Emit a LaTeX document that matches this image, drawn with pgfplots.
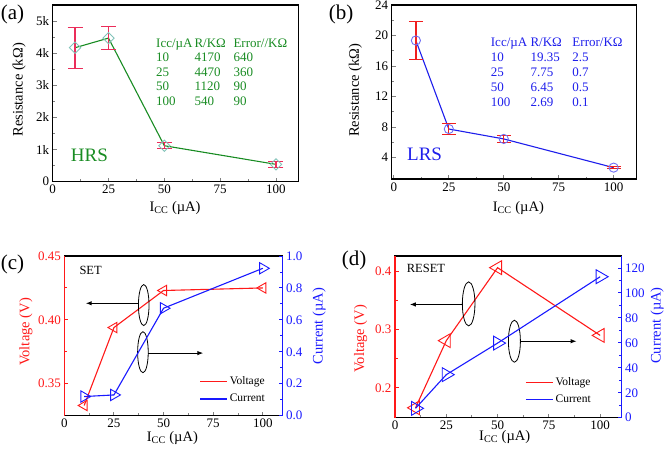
\documentclass[border=0pt]{standalone}
\usepackage{fontspec}
\setmainfont{Liberation Serif}
\usepackage{pgfplots}
\pgfplotsset{compat=1.18}
\usetikzlibrary{arrows.meta}

\definecolor{hrsgreen}{RGB}{25,140,35}
\definecolor{hrsmark}{RGB}{130,195,185}
\definecolor{errred}{RGB}{235,45,90}
\definecolor{lrsblue}{RGB}{30,30,235}
\definecolor{lrsmark}{RGB}{110,110,245}
\definecolor{lrserr}{RGB}{240,30,30}
\definecolor{vred}{RGB}{255,25,25}
\definecolor{cblue}{RGB}{25,25,255}

\pgfplotsset{
  panel/.style={
    scale only axis, anchor=south west,
    axis line style={line width=1.2pt},
    xtick pos=bottom, ytick pos=left,
    tick align=inside,
    major tick length=4pt, minor tick length=2.5pt,
    every tick/.append style={line width=0.9pt},
    minor x tick num=1, minor y tick num=1,
    tick label style={font=\fontsize{13}{13}\selectfont},
    /pgf/number format/assume math mode=true,
    label style={font=\fontsize{14.5}{14.5}\selectfont},
    xlabel={I\textsubscript{CC} (µA)},
    xtick={0,25,50,75,100},
    scaled ticks=false,
  },
  rightpanel/.style={
    hide x axis, axis y line*=right,
    ytick pos=right, yticklabel pos=right, ytick align=inside,
    y tick style={cblue},
    legend style={draw=none, fill=none, inner sep=0pt, row sep=4pt,
      font=\fontsize{11.5}{11.5}\selectfont, anchor=north west},
    legend cell align=left,
    legend image code/.code={\draw[##1, line width=1.3pt] (0pt,0pt) -- (27pt,0pt);},
  },
}

\begin{document}
\begin{tikzpicture}
\useasboundingbox (0pt,0pt) rectangle (666pt,456pt);

% (a) HRS
\begin{axis}[panel, at={(52.7pt,274.3pt)}, width=245.6pt, height=176.7pt,
  xmin=0, xmax=110, ymin=0, ymax=5500,
  ytick={0,1000,2000,3000,4000,5000}, yticklabels={0,1k,2k,3k,4k,5k},
  ylabel={Resistance (kΩ)},
  xlabel style={at={(axis description cs:0.498,-0.17)}, anchor=base},
  ylabel style={at={(axis description cs:-0.137,0.52)}, anchor=center}]
\addplot[hrsgreen, line width=1.1pt, mark=square, mark size=4pt,
  mark options={hrsmark, fill=white, rotate=45, line width=0.9pt},
  error bars/.cd, y dir=both, y explicit,
  error bar style={color=errred, line width=1.3pt},
  error mark options={color=errred, line width=1.2pt, mark size=7.5pt, rotate=90}]
  coordinates {(10,4170) +- (0,640) (25,4470) +- (0,360)
               (50,1120) +- (0,90) (100,540) +- (0,90)};
\end{axis}

% (b) LRS
\begin{axis}[panel, at={(391.7pt,277pt)}, width=245pt, height=174pt,
  xmin=-1, xmax=110.5, ymin=1.2, ymax=24,
  ytick={4,8,12,16,20,24},
  ylabel={Resistance (kΩ)},
  xlabel style={at={(axis description cs:0.517,-0.184)}, anchor=base},
  ylabel style={at={(axis description cs:-0.148,0.51)}, anchor=center}]
\addplot[lrsblue, line width=1.1pt, mark=o, mark size=4.6pt,
  mark options={lrsmark, fill=white, line width=0.9pt},
  error bars/.cd, y dir=both, y explicit,
  error bar style={color=lrserr, line width=1.3pt},
  error mark options={color=lrserr, line width=1.2pt, mark size=7pt, rotate=90}]
  coordinates {(10,19.35) +- (0,2.5) (25,7.75) +- (0,0.7)
               (50,6.45) +- (0,0.5) (100,2.69) +- (0,0.1)};
\end{axis}

% (c) SET, voltage
\begin{axis}[panel, name=c1, at={(64.3pt,40.3pt)}, width=218.4pt, height=159.7pt,
  xmin=0, xmax=110, ymin=0.325, ymax=0.45,
  ytick={0.35,0.40,0.45},
  yticklabel style={vred, /pgf/number format/.cd, fixed, fixed zerofill, precision=2},
  y tick style={vred},
  ylabel={Voltage (V)},
  xlabel style={at={(axis description cs:0.495,-0.16)}, anchor=base},
  ylabel style={vred, at={(axis description cs:-0.176,0.524)}, anchor=center}]
\addplot[vred, line width=1.1pt, mark=triangle, mark size=6pt,
  mark options={rotate=90, fill=white, line width=0.9pt}]
  coordinates {(10,0.333) (25,0.394) (50,0.423) (100,0.425)};
\draw[line width=0.8pt] (axis cs:40,0.4116) ellipse [x radius=5.3pt, y radius=20.5pt];
\draw[line width=1pt, -{Latex[length=6pt, width=4.5pt]}]
  (axis cs:37.3,0.413) -- (axis cs:10.8,0.413);
\draw[line width=0.8pt] (axis cs:39.6,0.3747) ellipse [x radius=5.3pt, y radius=20.5pt];
\draw[line width=1pt, -{Latex[length=6pt, width=4.5pt]}]
  (axis cs:42.3,0.374) -- (axis cs:70,0.374);
\end{axis}

% (c) SET, current
\begin{axis}[panel, rightpanel, at={(64.3pt,40.3pt)}, width=218.4pt, height=159.7pt,
  xmin=0, xmax=110, ymin=0, ymax=1.0,
  ytick={0,0.2,0.4,0.6,0.8,1.0},
  yticklabel style={cblue, /pgf/number format/.cd, fixed, fixed zerofill, precision=1},
  ylabel={Current (µA)},
  ylabel style={cblue, at={(axis description cs:1.167,0.56)}, anchor=center},
  legend style={at={(axis description cs:0.618,0.257)}}]
\addlegendimage{vred}
\addlegendentry{Voltage}
\addplot[cblue, line width=1.1pt, mark=triangle, mark size=6.5pt,
  mark options={rotate=-90, fill=white, line width=0.9pt}]
  coordinates {(10,0.12) (25,0.13) (50,0.673) (100,0.923)};
\addlegendentry{Current}
\end{axis}
\draw[vred, line width=1.5pt] (c1.south west) -- (c1.north west);
\draw[cblue, line width=1.5pt] (c1.south east) -- (c1.north east);

% (d) RESET, voltage
\begin{axis}[panel, name=d1, at={(395pt,38.3pt)}, width=226.7pt, height=161.7pt,
  xmin=0, xmax=110.5, ymin=0.149, ymax=0.426,
  ytick={0.2,0.3,0.4},
  yticklabel style={vred, /pgf/number format/.cd, fixed, fixed zerofill, precision=1},
  y tick style={vred},
  ylabel={Voltage (V)},
  xlabel style={at={(axis description cs:0.484,-0.14)}, anchor=base},
  ylabel style={vred, at={(axis description cs:-0.151,0.488)}, anchor=center}]
\addplot[vred, line width=1.1pt, mark=triangle, mark size=8pt,
  mark options={rotate=90, fill=white, line width=0.9pt}]
  coordinates {(10,0.166) (25,0.281) (50,0.406) (100,0.29)};
\draw[line width=0.8pt] (axis cs:35.9,0.344) ellipse [x radius=6.3pt, y radius=22pt];
\draw[line width=1pt, -{Latex[length=6pt, width=4.5pt]}]
  (axis cs:32.8,0.343) -- (axis cs:7.2,0.343);
\draw[line width=0.8pt] (axis cs:58.2,0.28) ellipse [x radius=6pt, y radius=21pt];
\draw[line width=1pt, -{Latex[length=6pt, width=4.5pt]}]
  (axis cs:61.1,0.28) -- (axis cs:88.5,0.28);
\end{axis}

% (d) RESET, current
\begin{axis}[panel, rightpanel, at={(395pt,38.3pt)}, width=226.7pt, height=161.7pt,
  xmin=0, xmax=110.5, ymin=0, ymax=129.6,
  ytick={0,20,40,60,80,100,120},
  yticklabel style={cblue},
  ylabel={Current (µA)},
  ylabel style={cblue, at={(axis description cs:1.156,0.57)}, anchor=center},
  legend style={at={(axis description cs:0.574,0.262)}}]
\addlegendimage{vred}
\addlegendentry{Voltage}
\addplot[cblue, line width=1.1pt, mark=triangle, mark size=8pt,
  mark options={rotate=-90, fill=white, line width=0.9pt}]
  coordinates {(10,7.5) (25,34.5) (50,59.8) (100,113)};
\addlegendentry{Current}
\end{axis}
\draw[vred, line width=1.5pt] (d1.south west) -- (d1.north west);
\draw[cblue, line width=1.5pt] (d1.south east) -- (d1.north east);

% panel letters and annotations
\begin{scope}[every node/.style={inner sep=0pt}]
\node[font=\fontsize{21}{21}\selectfont] at (12.5pt,442pt) {(a)};
\node[font=\fontsize{21}{21}\selectfont] at (341pt,442pt) {(b)};
\node[font=\fontsize{21}{21}\selectfont] at (12.5pt,191.5pt) {(c)};
\node[font=\fontsize{21}{21}\selectfont] at (354pt,196pt) {(d)};

\node[anchor=west, text=hrsgreen, font=\fontsize{19}{19}\selectfont] at (70.7pt,301pt) {HRS};
\node[anchor=west, text=lrsblue, font=\fontsize{19}{19}\selectfont] at (407pt,301.7pt) {LRS};

\node[anchor=west, align=left, text=hrsgreen, font=\fontsize{13}{14.4}\selectfont] at (156pt,384pt)
  {\makebox[38.3pt][l]{Icc/µA}\makebox[39pt][l]{R/KΩ}Error//KΩ\\
   \makebox[38.3pt][l]{10}\makebox[39pt][l]{4170}640\\
   \makebox[38.3pt][l]{25}\makebox[39pt][l]{4470}360\\
   \makebox[38.3pt][l]{50}\makebox[39pt][l]{1120}90\\
   \makebox[38.3pt][l]{100}\makebox[39pt][l]{540}90};
\node[anchor=west, align=left, text=lrsblue, font=\fontsize{13}{15}\selectfont] at (490.7pt,383.7pt)
  {\makebox[39.6pt][l]{Icc/µA}\makebox[42pt][l]{R/KΩ}Error/KΩ\\
   \makebox[39.6pt][l]{10}\makebox[42pt][l]{19.35}2.5\\
   \makebox[39.6pt][l]{25}\makebox[42pt][l]{7.75}0.7\\
   \makebox[39.6pt][l]{50}\makebox[42pt][l]{6.45}0.5\\
   \makebox[39.6pt][l]{100}\makebox[42pt][l]{2.69}0.1};

\node[anchor=west, font=\fontsize{12.5}{12.5}\selectfont] at (79.3pt,186pt) {SET};
\node[anchor=west, font=\fontsize{12.5}{12.5}\selectfont] at (406.7pt,187.7pt) {RESET};
\end{scope}
\end{tikzpicture}
\end{document}
